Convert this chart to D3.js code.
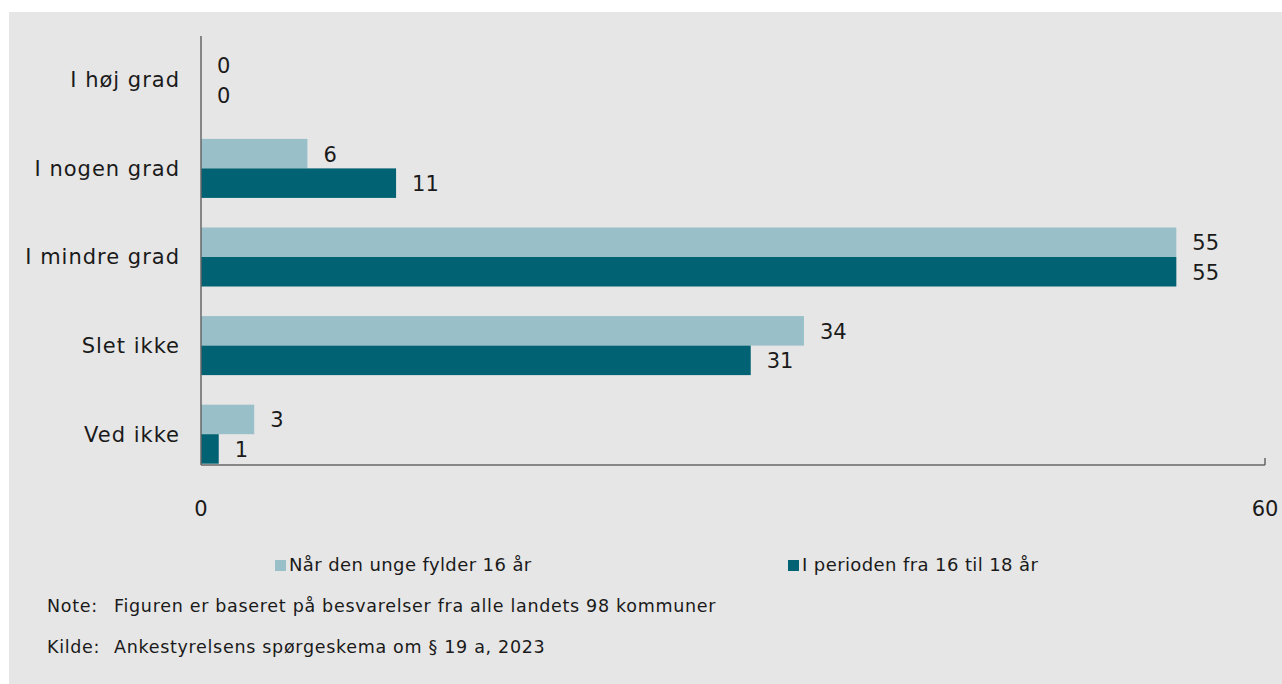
<html>
<head>
<style>
  body { margin: 0; background: #fff; }
  text { font-family: "DejaVu Sans", Verdana, sans-serif; fill: #1a1a1a; }
</style>
</head>
<body>
<svg id="content"></svg>
<script src="https://cdn.jsdelivr.net/npm/d3@7"></script>
<script>
let categories = ["I høj grad", "I nogen grad", "I mindre grad", "Slet ikke", "Ved ikke"];
let seriesNames = ["Når den unge fylder 16 år", "I perioden fra 16 til 18 år"];
let at16 = [0, 6, 55, 34, 3];
let from16to18 = [0, 11, 55, 31, 1];
let xTicks = [0, 60];
let noteText = "Figuren er baseret på besvarelser fra alle landets 98 kommuner";
let sourceText = "Ankestyrelsens spørgeskema om § 19 a, 2023";

let width = 1282, height = 684;
let colors = ["#99bfc8", "#006272"];

let svg = d3.select("#content").attr("width", width).attr("height", height);

svg.append("rect").attr("x", 9).attr("y", 12).attr("width", width - 9).attr("height", height - 12)
    .attr("fill", "#e6e6e6");

let x = d3.scaleLinear().domain([0, 60]).range([201, 1265]);
let y = d3.scaleBand().domain(categories).range([35.5, 478.5]).paddingInner(0.334).paddingOuter(0.167);
let sub = d3.scaleBand().domain([0, 1]).range([0, y.bandwidth()]);

let series = [at16, from16to18];

let rows = svg.selectAll("g.row")
    .data(categories)
    .enter()
    .append("g")
    .attr("class", "row")
    .attr("transform", d => `translate(0, ${y(d)})`);

rows.selectAll("rect")
    .data((d, i) => series.map((s, j) => ({v: s[i], j: j})))
    .enter()
    .append("rect")
    .attr("x", x(0))
    .attr("y", d => sub(d.j))
    .attr("width", d => x(d.v) - x(0))
    .attr("height", sub.bandwidth())
    .attr("fill", d => colors[d.j]);

rows.selectAll("text.val")
    .data((d, i) => series.map((s, j) => ({v: s[i], j: j})))
    .enter()
    .append("text")
    .attr("class", "val")
    .attr("x", d => x(d.v) + 16)
    .attr("y", d => sub(d.j) + sub.bandwidth() / 2)
    .attr("dy", "0.38em")
    .style("font-size", "21px")
    .text(d => d.v);

rows.append("text")
    .attr("x", 180)
    .attr("y", y.bandwidth() / 2)
    .attr("dy", "0.35em")
    .attr("text-anchor", "end")
    .style("font-size", "21px")
    .style("letter-spacing", "1px")
    .text(d => d);

// axes
svg.append("line").attr("x1", x(0)).attr("x2", x(0)).attr("y1", 36).attr("y2", 465)
    .attr("stroke", "#666").attr("stroke-width", 1.5);
svg.append("line").attr("x1", x(0)).attr("x2", x(60)).attr("y1", 465).attr("y2", 465)
    .attr("stroke", "#666").attr("stroke-width", 1.5);
svg.append("line").attr("x1", x(60)).attr("x2", x(60)).attr("y1", 458).attr("y2", 465)
    .attr("stroke", "#666").attr("stroke-width", 1.5);

svg.selectAll("text.tick")
    .data(xTicks)
    .enter()
    .append("text")
    .attr("class", "tick")
    .attr("x", d => x(d))
    .attr("y", 509)
    .attr("dy", "0.35em")
    .attr("text-anchor", "middle")
    .style("font-size", "21px")
    .text(d => d);

// legend
let legendX = [275, 788];
let legend = svg.selectAll("g.legend")
    .data(seriesNames)
    .enter()
    .append("g")
    .attr("class", "legend")
    .attr("transform", (d, i) => `translate(${legendX[i]}, 565)`);

legend.append("rect").attr("x", 0).attr("y", -5).attr("width", 11).attr("height", 11)
    .attr("fill", (d, i) => colors[i]);
legend.append("text").attr("x", 14).attr("dy", "0.35em")
    .style("font-size", "18px").style("letter-spacing", "0.4px").text(d => d);

// notes
let notes = svg.append("g").style("font-size", "17.5px").style("letter-spacing", "0.7px");
notes.append("text").attr("x", 47).attr("y", 606).attr("dy", "0.35em").text("Note:");
notes.append("text").attr("x", 114).attr("y", 606).attr("dy", "0.35em").text(noteText);
notes.append("text").attr("x", 47).attr("y", 647).attr("dy", "0.35em").text("Kilde:");
notes.append("text").attr("x", 114).attr("y", 647).attr("dy", "0.35em").text(sourceText);
</script>
</body>
</html>
